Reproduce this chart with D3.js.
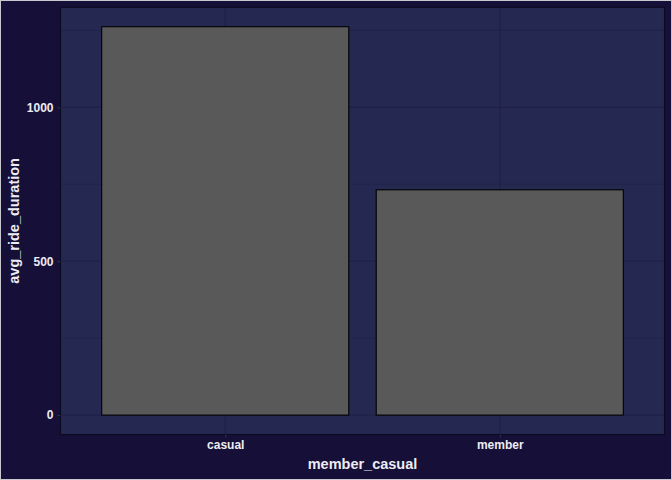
<!DOCTYPE html>
<html><head><meta charset="utf-8">
<script src="https://cdn.jsdelivr.net/npm/d3@7"></script>
<style>body{margin:0;background:#160f38}svg{display:block}</style>
</head><body>
<script>
const categories = ["casual", "member"];
const values = [1262, 732];
const yTicks = [0, 500, 1000];
const yMinor = [250, 750, 1250];

const W = 672, H = 480;
const m = {left: 60.5, right: 7.5, top: 7.3, bottom: 45.5};
const svg = d3.select("body").append("svg").attr("width", W).attr("height", H);
svg.append("rect").attr("x", 0.5).attr("y", 0.5).attr("width", W - 1).attr("height", H - 1)
  .attr("fill", "#160f38").attr("stroke", "#c8c8d0").attr("stroke-width", 1);

const pw = W - m.left - m.right, ph = H - m.top - m.bottom;
const g = svg.append("g").attr("transform", `translate(${m.left},${m.top})`);
const maxV = d3.max(values);
const y = d3.scaleLinear().domain([-0.05 * maxV, 1.05 * maxV]).range([ph, 0]);
// ggplot-like discrete scale: positions 1..n with 0.6 expansion
const xc = d3.scaleLinear().domain([0.4, categories.length + 0.6]).range([0, pw]);
const bw = xc(1.9) - xc(1.0);

g.append("rect").attr("width", pw).attr("height", ph).attr("fill", "#252850");
const gridCol = "#1f2147";
g.selectAll(".ymin").data(yMinor).join("line")
  .attr("x1", 0).attr("x2", pw).attr("y1", d => y(d)).attr("y2", d => y(d))
  .attr("stroke", gridCol).attr("stroke-width", 0.6);
g.selectAll(".ymaj").data(yTicks).join("line")
  .attr("x1", 0).attr("x2", pw).attr("y1", d => y(d)).attr("y2", d => y(d))
  .attr("stroke", gridCol).attr("stroke-width", 1.1);
g.selectAll(".xmaj").data(categories).join("line")
  .attr("x1", (d, i) => xc(i + 1)).attr("x2", (d, i) => xc(i + 1)).attr("y1", 0).attr("y2", ph)
  .attr("stroke", gridCol).attr("stroke-width", 1.1);

g.selectAll(".bar").data(values).join("rect")
  .attr("x", (d, i) => xc(i + 1) - bw / 2).attr("width", bw)
  .attr("y", d => y(d)).attr("height", d => y(0) - y(d))
  .attr("fill", "#595959").attr("stroke", "#000").attr("stroke-width", 1.1);

g.append("rect").attr("width", pw).attr("height", ph).attr("fill", "none")
  .attr("stroke", "#0a0a20").attr("stroke-width", 1.1);

// axes
const tickCol = "#333344";
const yAxis = g.append("g").call(d3.axisLeft(y).tickValues(yTicks).tickSize(3).tickPadding(4).tickFormat(d3.format("d")));
yAxis.select(".domain").remove();
yAxis.selectAll("line").attr("stroke", tickCol);
yAxis.selectAll("text").attr("fill", "#ececf2").style("font-family", "Liberation Sans, Arial, sans-serif")
  .style("font-size", "12px").style("font-weight", "bold");

const xAxisScale = d3.scalePoint().domain(categories).range([xc(1), xc(categories.length)]);
const xAxis = g.append("g").attr("transform", `translate(0,${ph})`)
  .call(d3.axisBottom(xAxisScale).tickSize(3).tickPadding(3));
xAxis.select(".domain").remove();
xAxis.selectAll("line").attr("stroke", tickCol);
xAxis.selectAll("text").attr("fill", "#ececf2").style("font-family", "Liberation Sans, Arial, sans-serif")
  .style("font-size", "12px").style("font-weight", "bold");

svg.append("text").attr("x", m.left + pw / 2).attr("y", 469).attr("text-anchor", "middle")
  .attr("fill", "#ececf2").style("font-family", "Liberation Sans, Arial, sans-serif")
  .style("font-size", "14.5px").style("font-weight", "bold").text("member_casual");
svg.append("text").attr("transform", `translate(19,${m.top + ph / 2}) rotate(-90)`).attr("text-anchor", "middle")
  .attr("fill", "#ececf2").style("font-family", "Liberation Sans, Arial, sans-serif")
  .style("font-size", "14.5px").style("font-weight", "bold").text("avg_ride_duration");
</script>
</body></html>
